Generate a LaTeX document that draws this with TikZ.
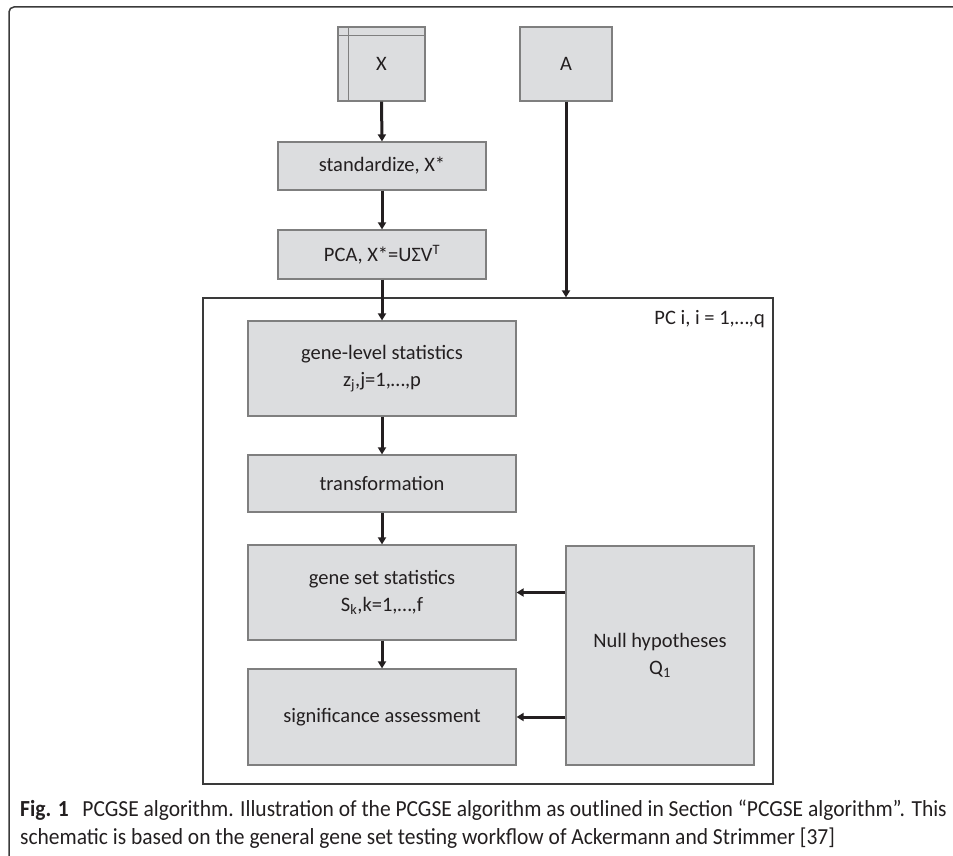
\documentclass[tikz,border=0pt]{standalone}
\usepackage{fontspec}
\setmainfont{Carlito}
\newfontfamily\capfont[FakeStretch=0.935]{Carlito}
\usetikzlibrary{arrows.meta}
\definecolor{boxfill}{HTML}{DCDDDF}
\definecolor{boxline}{HTML}{7F7F7F}
\definecolor{framecol}{HTML}{3A3A3A}
\definecolor{txt}{HTML}{231F20}
\begin{document}
\begin{tikzpicture}[x=1pt,y=-1pt,
  box/.style={draw=boxline, fill=boxfill, line width=1.2pt, inner sep=0pt, align=center,
    font=\fontsize{20.5}{27}\selectfont, text=txt},
  flow/.style={line width=3pt, draw=txt, -{Triangle[length=7pt,width=8pt]}},
  ]
\useasboundingbox (0,0) rectangle (953,856);
% figure frame
\draw[framecol, line width=1.5pt, rounded corners=5pt] (953,7) -- (9,7) -- (9,857);
% loop frame
\node[draw=framecol, line width=1.3pt, minimum width=570pt, minimum height=486pt, inner sep=0pt] (frame) at (488,541) {};
\node[anchor=east, font=\fontsize{20.5}{24}\selectfont, text=txt, inner sep=0pt] (pclabel) at (765,319) {PC i, i = 1,…,q};
% input boxes
\node[box, minimum width=87pt, minimum height=74pt] (X) at (381.5,64) {\raisebox{-6pt}{X}};
\draw[boxline, line width=1.2pt] ([xshift=11pt]X.north west) -- ([xshift=11pt]X.south west);
\draw[boxline, line width=1.2pt] ([yshift=-9pt]X.north west) -- ([yshift=-9pt]X.north east);
\node[box, minimum width=92pt, minimum height=74pt] (A) at (566,64) {A};
% steps
\node[box, minimum width=208pt, minimum height=48pt] (std) at (382,166) {standardize, X*};
\node[box, minimum width=208pt, minimum height=49pt] (pca) at (382,254.5) {PCA, X*=UΣV\textsuperscript{T}};
\node[box, minimum width=268pt, minimum height=95pt] (gene) at (382,368.5) {gene-level statistics\\ z\textsubscript{j},j=1,…,p};
\node[box, minimum width=268pt, minimum height=57pt] (trans) at (382,483.5) {transformation};
\node[box, minimum width=268pt, minimum height=95pt] (gset) at (382,592.5) {gene set statistics\\ S\textsubscript{k},k=1,…,f};
\node[box, minimum width=268pt, minimum height=96pt] (sig) at (382,717) {significance assessment};
\node[box, minimum width=188pt, minimum height=219pt] (null) at (660,655.5) {Null hypotheses\\ Q\textsubscript{1}};
% connectors
\draw[flow] (X.south) -- (std.north);
\draw[flow] (std.south) -- (pca.north);
\draw[flow] (pca.south) -- (gene.north);
\draw[flow] (A.south) -- (A.south |- frame.north);
\draw[flow] (gene.south) -- (trans.north);
\draw[flow] (trans.south) -- (gset.north);
\draw[flow] (gset.south) -- (sig.north);
\draw[flow] (null.west |- gset.east) -- (gset.east);
\draw[flow] (null.west |- sig.east) -- (sig.east);
% caption
\node[anchor=north west, inner sep=0pt, align=left, text=txt,
  font=\capfont\fontsize{23}{27.5}\selectfont] (caption) at (20,800)
  {\textbf{Fig. 1}\hspace{0.6em}PCGSE algorithm. Illustration of the PCGSE algorithm as outlined in Section “PCGSE algorithm”. This\\
   schematic is based on the general gene set testing workflow of Ackermann and Strimmer [37]};
\end{tikzpicture}
\end{document}
